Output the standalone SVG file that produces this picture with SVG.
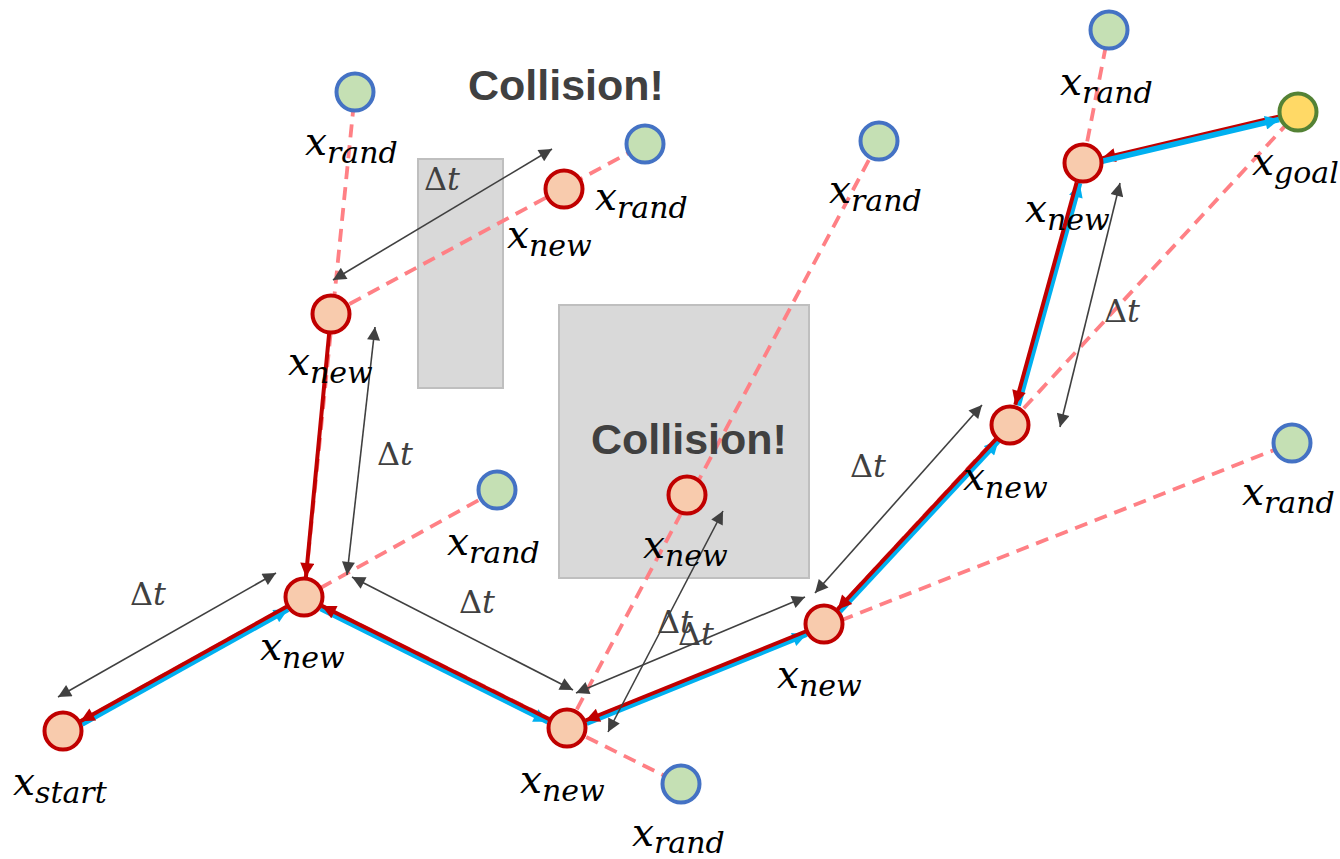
<svg xmlns="http://www.w3.org/2000/svg" width="1340" height="859" viewBox="0 0 1340 859">
<style>
.obs{fill:#D9D9D9;stroke:#BFBFBF;stroke-width:2}
.col{font-family:"Liberation Sans",Arial,sans-serif;font-weight:bold;font-size:43px;fill:#404040}
.dash{fill:none;stroke:#FF8085;stroke-width:3.8;stroke-dasharray:13 8}
.blue{fill:none;stroke:#00B0F0;stroke-width:5.5}
.red{fill:none;stroke:#C00000;stroke-width:4}
.dt{fill:none;stroke:#404040;stroke-width:1.6}
.nn{fill:#F8CBAD;stroke:#C00000;stroke-width:4}
.nr{fill:#C5E0B4;stroke:#4472C4;stroke-width:4}
.ng{fill:#FFD966;stroke:#548235;stroke-width:4}
.m{font-family:"DejaVu Serif",serif;font-style:italic;font-size:39px;fill:#000}
.s{font-size:30px}
.d{font-family:"DejaVu Serif",serif;font-size:32px;fill:#404040}
.it{font-style:italic}
</style>
<defs>
<marker id="ag" viewBox="0 0 10 10" refX="10" refY="5" markerWidth="17" markerHeight="13" markerUnits="userSpaceOnUse" orient="auto-start-reverse"><path d="M0,0 L10,5 L0,10 z" fill="#404040"/></marker>
<marker id="ar" viewBox="0 0 10 10" refX="10" refY="5" markerWidth="16" markerHeight="14" markerUnits="userSpaceOnUse" orient="auto"><path d="M0,0 L10,5 L0,10 z" fill="#C00000"/></marker>
<marker id="ab" viewBox="0 0 10 10" refX="10" refY="5" markerWidth="16" markerHeight="14" markerUnits="userSpaceOnUse" orient="auto"><path d="M0,0 L10,5 L0,10 z" fill="#00B0F0"/></marker>
</defs>

<g id="obstacles">
<rect class="obs" x="418" y="159" width="85" height="229"/>
<rect class="obs" x="559" y="305" width="250" height="273"/>
</g>
<text class="col" x="468" y="100">Collision!</text>

<g id="connectors">
<g id="samples">
<line class="dash" x1="63" y1="731" x2="497" y2="490"/>
<line class="dash" x1="304" y1="597" x2="681" y2="784"/>
<line class="dash" x1="304" y1="597" x2="355" y2="92"/>
<line class="dash" x1="331" y1="314" x2="645" y2="144"/>
<line class="dash" x1="567" y1="728" x2="879" y2="141"/>
<line class="dash" x1="567" y1="728" x2="1292" y2="443"/>
<line class="dash" x1="824" y1="624" x2="1298" y2="112"/>
<polyline class="dash" points="1010,425 1083,163 1109,30"/>
</g>
<g id="path-forward">
<line class="blue" x1="82" y1="724" x2="288" y2="609.3" marker-end="url(#ab)"/>
<line class="blue" x1="320.6" y1="608.6" x2="547.8" y2="721.8" marker-end="url(#ab)"/>
<line class="blue" x1="586.6" y1="723.3" x2="806.6" y2="634.3" marker-end="url(#ab)"/>
<line class="blue" x1="839.8" y1="611.4" x2="998.6" y2="440.6" marker-end="url(#ab)"/>
<line class="blue" x1="1018.2" y1="405.5" x2="1079.6" y2="183.1" marker-end="url(#ab)"/>
</g>
<g id="path-parent">
<line class="red" x1="286.5" y1="606.7" x2="80.5" y2="721.3" marker-end="url(#ar)"/>
<line class="red" x1="549.1" y1="719.1" x2="321.9" y2="605.9" marker-end="url(#ar)"/>
<line class="red" x1="329.1" y1="333.9" x2="305.9" y2="577.1" marker-end="url(#ar)"/>
<line class="red" x1="805.5" y1="631.5" x2="585.5" y2="720.5" marker-end="url(#ar)"/>
<line class="red" x1="996.4" y1="438.6" x2="837.6" y2="609.4" marker-end="url(#ar)"/>
<line class="red" x1="1076.7" y1="182.3" x2="1015.3" y2="404.7" marker-end="url(#ar)"/>
<line class="red" x1="1278.5" y1="116.6" x2="1101.5" y2="158.4" marker-end="url(#ar)"/>
</g>
<line class="blue" x1="1102.2" y1="161.3" x2="1279.2" y2="119.5" marker-end="url(#ab)"/>
<g id="step-arrows">
<line class="dt" x1="58" y1="697" x2="276" y2="573" marker-start="url(#ag)" marker-end="url(#ag)"/>
<line class="dt" x1="352" y1="577" x2="573" y2="690" marker-start="url(#ag)" marker-end="url(#ag)"/>
<line class="dt" x1="375" y1="327" x2="347" y2="575" marker-start="url(#ag)" marker-end="url(#ag)"/>
<line class="dt" x1="333" y1="280" x2="552" y2="149" marker-start="url(#ag)" marker-end="url(#ag)"/>
<line class="dt" x1="576" y1="693" x2="805" y2="597" marker-start="url(#ag)" marker-end="url(#ag)"/>
<line class="dt" x1="723" y1="511" x2="608" y2="732" marker-start="url(#ag)" marker-end="url(#ag)"/>
<line class="dt" x1="815" y1="593" x2="982" y2="405" marker-start="url(#ag)" marker-end="url(#ag)"/>
<line class="dt" x1="1120" y1="183" x2="1060" y2="427" marker-start="url(#ag)" marker-end="url(#ag)"/>
</g>
</g>

<text class="col" x="591" y="454">Collision!</text>

<g id="x-start"><circle class="nn" cx="63" cy="731" r="18.5"/><text class="m" x="13" y="795">x<tspan class="s" dy="8">start</tspan></text></g>
<g id="x-new-1"><circle class="nn" cx="304" cy="597" r="18.5"/><text class="m" x="260" y="660">x<tspan class="s" dy="8">new</tspan></text></g>
<g id="x-new-2"><circle class="nn" cx="331" cy="314" r="18.5"/><text class="m" x="288" y="375">x<tspan class="s" dy="8">new</tspan></text></g>
<g id="x-new-3"><circle class="nn" cx="564" cy="189" r="18.5"/><text class="m" x="507" y="248">x<tspan class="s" dy="8">new</tspan></text></g>
<g id="x-new-4"><circle class="nn" cx="567" cy="728" r="18.5"/><text class="m" x="520" y="793">x<tspan class="s" dy="8">new</tspan></text></g>
<g id="x-new-5"><circle class="nn" cx="687" cy="495" r="18.5"/><text class="m" x="643" y="558">x<tspan class="s" dy="8">new</tspan></text></g>
<g id="x-new-6"><circle class="nn" cx="824" cy="624" r="18.5"/><text class="m" x="777" y="688">x<tspan class="s" dy="8">new</tspan></text></g>
<g id="x-new-7"><circle class="nn" cx="1010" cy="425" r="18.5"/><text class="m" x="963" y="490">x<tspan class="s" dy="8">new</tspan></text></g>
<g id="x-new-8"><circle class="nn" cx="1083" cy="163" r="18.5"/><text class="m" x="1025" y="222">x<tspan class="s" dy="8">new</tspan></text></g>
<g id="x-goal"><circle class="ng" cx="1298" cy="112" r="18.5"/><text class="m" x="1252" y="175">x<tspan class="s" dy="8">goal</tspan></text></g>

<g id="x-rand-1"><circle class="nr" cx="355" cy="92" r="18.5"/><text class="m" x="305" y="155">x<tspan class="s" dy="8">rand</tspan></text></g>
<g id="x-rand-2"><circle class="nr" cx="645" cy="144" r="18.5"/><text class="m" x="595" y="210">x<tspan class="s" dy="8">rand</tspan></text></g>
<g id="x-rand-3"><circle class="nr" cx="879" cy="141" r="18.5"/><text class="m" x="829" y="203">x<tspan class="s" dy="8">rand</tspan></text></g>
<g id="x-rand-4"><circle class="nr" cx="497" cy="490" r="18.5"/><text class="m" x="447" y="555">x<tspan class="s" dy="8">rand</tspan></text></g>
<g id="x-rand-5"><circle class="nr" cx="681" cy="784" r="18.5"/><text class="m" x="632" y="846">x<tspan class="s" dy="7">rand</tspan></text></g>
<g id="x-rand-6"><circle class="nr" cx="1109" cy="30" r="18.5"/><text class="m" x="1060" y="95">x<tspan class="s" dy="8">rand</tspan></text></g>
<g id="x-rand-7"><circle class="nr" cx="1292" cy="443" r="18.5"/><text class="m" x="1242" y="505">x<tspan class="s" dy="8">rand</tspan></text></g>

<g id="dt-labels">
<text class="d" x="130" y="605">Δ<tspan class="it">t</tspan></text>
<text class="d" x="459" y="613">Δ<tspan class="it">t</tspan></text>
<text class="d" x="377" y="465">Δ<tspan class="it">t</tspan></text>
<text class="d" x="424" y="190">Δ<tspan class="it">t</tspan></text>
<text class="d" x="657" y="633">Δ<tspan class="it">t</tspan></text>
<text class="d" x="678" y="645">Δ<tspan class="it">t</tspan></text>
<text class="d" x="850" y="477">Δ<tspan class="it">t</tspan></text>
<text class="d" x="1104" y="322">Δ<tspan class="it">t</tspan></text>
</g>
</svg>
